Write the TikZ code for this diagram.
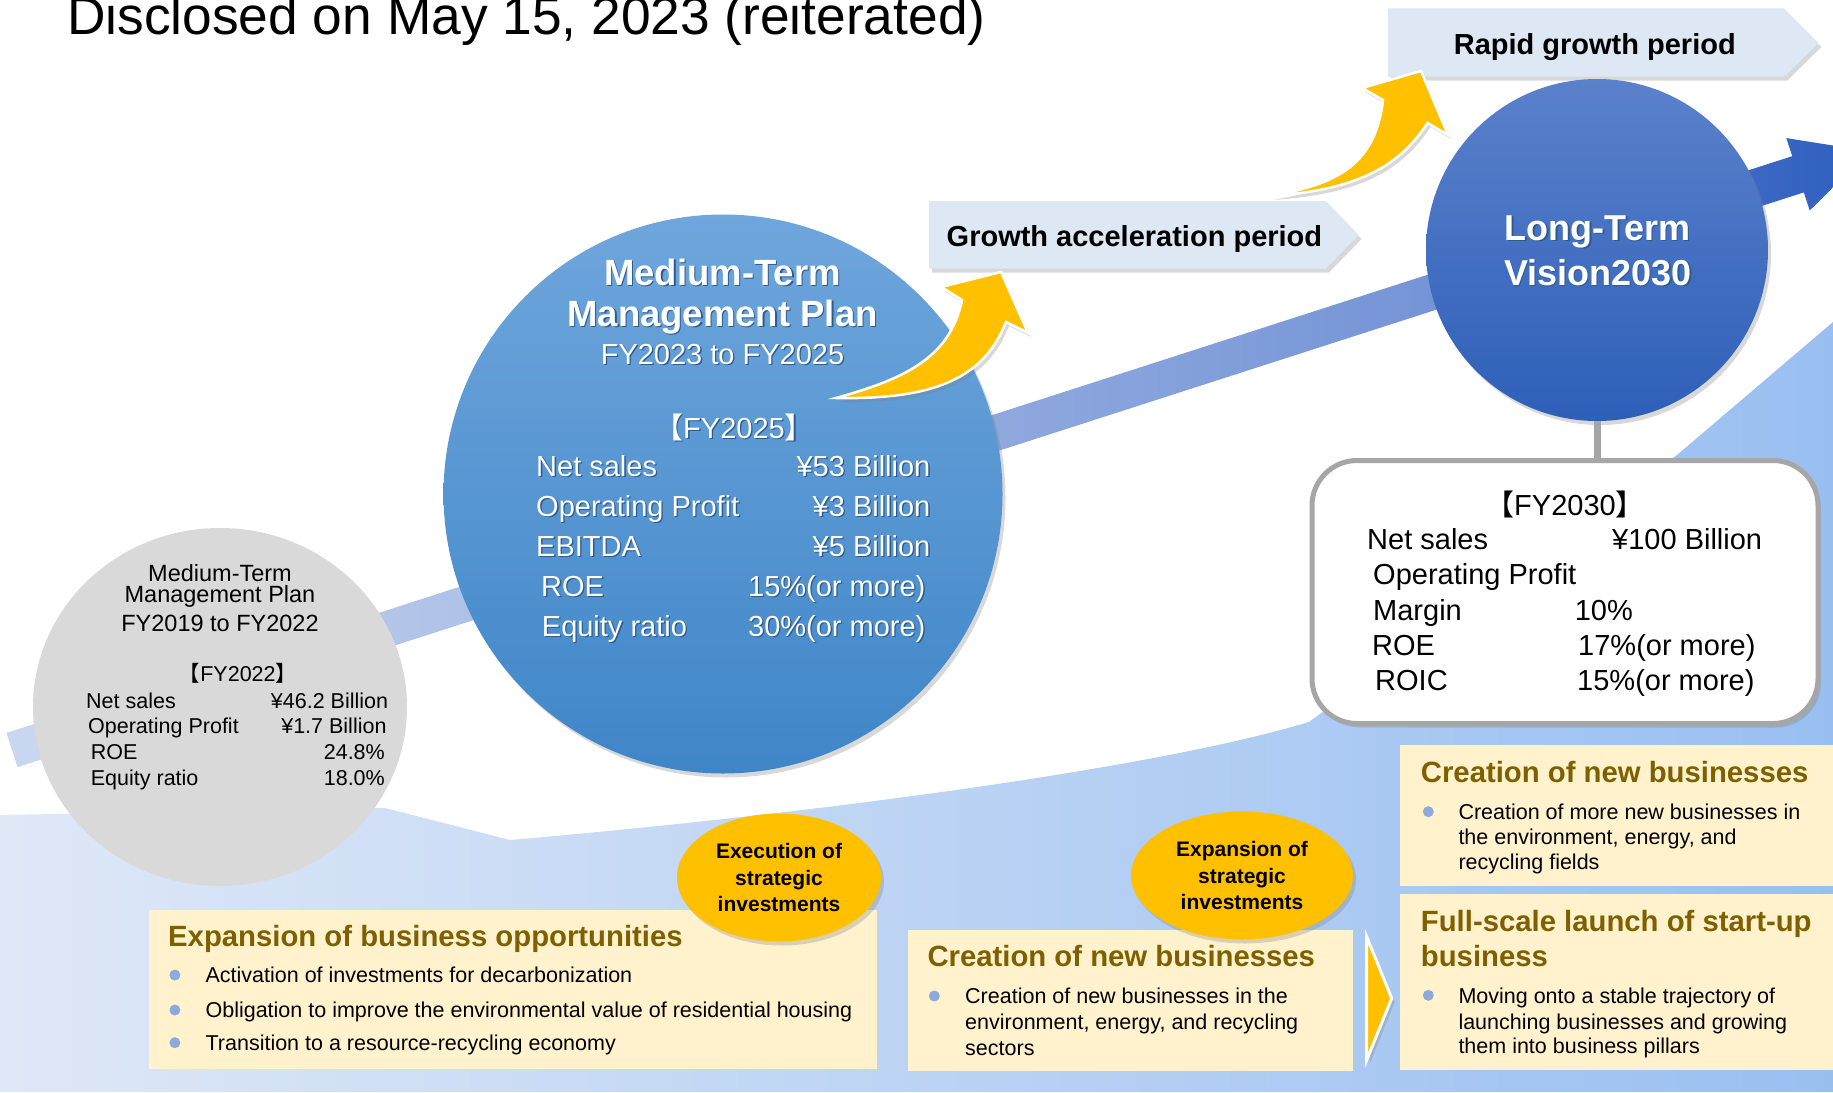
\documentclass[tikz,border=0pt]{standalone}
\usepackage{fontspec}
\setmainfont{Liberation Sans}
\newfontfamily\cjk{Noto Sans CJK JP}
\usetikzlibrary{positioning,shapes.geometric,shadows}

\definecolor{skyA}{HTML}{DFE8F7}
\definecolor{skyB}{HTML}{99BFF1}
\definecolor{trendA}{HTML}{CAD7EF}
\definecolor{trendB}{HTML}{6B8CD4}
\definecolor{trendC}{HTML}{4A75CB}
\definecolor{trendD}{HTML}{2F5EBE}
\definecolor{pastgray}{HTML}{D9D9D9}
\definecolor{midtop}{HTML}{6FA6DC}
\definecolor{midbot}{HTML}{3F86C8}
\definecolor{longtop}{HTML}{5B81CC}
\definecolor{longbot}{HTML}{2E5FB8}
\definecolor{phase}{HTML}{DDE8F4}
\definecolor{gold}{HTML}{FFC000}
\definecolor{cream}{HTML}{FFF2CC}
\definecolor{headgold}{HTML}{7F6000}
\definecolor{bulletblue}{HTML}{8EAADB}
\definecolor{frame}{HTML}{A6A6A6}
\definecolor{textshade}{HTML}{2F5B8C}

\newcommand\fsz[2]{\fontsize{#1}{#2}\selectfont}
\newcommand\fy[1]{{\cjk 【}#1{\cjk 】}}
\newcommand\sh[1]{\rlap{\kern1.3pt\raisebox{-1.3pt}{\color{textshade}#1}}#1}

\tikzset{
  softshadow/.style={drop shadow={opacity=.3,shadow xshift=3pt,shadow yshift=-4pt}},
  phasebox/.style={fill=phase,softshadow},
  growarrow/.style={fill=gold,draw=white,line width=2.5pt,softshadow},
  ctr/.style={anchor=base,inner sep=0pt},
  lbl/.style={anchor=base west,inner sep=0pt},
  val/.style={anchor=base east,inner sep=0pt},
  panel/.style={fill=cream,inner sep=0pt,anchor=north west},
  panelhead/.style={anchor=base west,inner sep=0pt,text=headgold,font=\bfseries\fsz{29.3}{35}},
  itemtext/.style={anchor=base west,inner sep=0pt,font=\fsz{21.5}{26}},
  invest/.style={ellipse,fill=gold,inner sep=0pt,align=center,font=\bfseries\fsz{21}{26.5},softshadow},
}

\begin{document}
\begin{tikzpicture}[x=1pt,y=-1pt]
\useasboundingbox (0,0) rectangle (1833,1092);
\fill[white] (0,0) rectangle (1833,1092);

% ground
\shade[left color=skyA,right color=skyB] (0,815) -- (385,808) -- (510,840)
  .. controls (800,815) and (1150,770) .. (1309,722) -- (1677,455) -- (1833,322)
  -- (1833,1092) -- (0,1092) -- cycle;

% trend band and arrow
\shade[left color=trendA,right color=trendB] (6.5,732.9) -- (1591.5,221.9) -- (1602.5,256.1) -- (17.5,767.1) -- cycle;
\shade[left color=trendC,right color=trendD] (1591.2,220.9) -- (1792.2,156.2) -- (1786.3,138.1)
  -- (1869.4,151.3) -- (1809.7,210.5) -- (1803.8,192.4) -- (1602.8,257.1) -- cycle;

\node[lbl,font=\fsz{53.3}{60}] (title) at (67,34) {Disclosed on May 15, 2023 (reiterated)};

% previous plan
\node[ellipse,fill=pastgray,minimum width=374,minimum height=358] (plan19) at (220,707) {};
\begin{scope}[font=\fsz{23.5}{26}]
\node[ctr] (p19a) at (220,581) {Medium-Term};
\node[ctr] (p19b) at (220,602.7) {Management Plan};
\node[ctr] (p19c) at (220,631.7) {FY2019 to FY2022};
\end{scope}
\begin{scope}[font=\fsz{21.5}{25}]
\node[ctr] (p19fy) at (238,681.7) {\fy{FY2022}};
\foreach \l/\v/\xl/\xr/\yy [count=\i] in {Net sales/{¥46.2 Billion}/86/388.3/708.3,
    Operating Profit/{¥1.7 Billion}/88/386.7/733.3, ROE/24.8\%/90.7/385/759,
    Equity ratio/18.0\%/90.7/385/785} {
  \node[lbl] (p19l\i) at (\xl,\yy) {\l};
  \node[val] (p19v\i) at (\xr,\yy) {\v};
}
\end{scope}

% current plan
\node[circle,top color=midtop,bottom color=midbot,minimum size=559,softshadow] (plan23) at (723,494) {};
\begin{scope}[text=white]
\node[ctr,font=\bfseries\fsz{36.5}{40}] (p23a) at (722.5,285.5) {\sh{Medium-Term}};
\node[ctr,font=\bfseries\fsz{36.5}{40}] (p23b) at (722.5,326) {\sh{Management Plan}};
\node[ctr,font=\fsz{29}{34}] (p23c) at (722.5,364.6) {\sh{FY2023 to FY2025}};
\node[ctr,font=\fsz{29}{34}] (p23fy) at (734,438.6) {\sh{\fy{FY2025}}};
\foreach \l/\v/\xl/\xr/\yy [count=\i] in {Net sales/{¥53 Billion}/536/930.6/476,
    Operating Profit/{¥3 Billion}/536/930.6/516.5, EBITDA/{¥5 Billion}/536/930.6/556.3,
    ROE/15\%(or more)/541/925.6/596, Equity ratio/30\%(or more)/541.7/925.6/636} {
  \node[lbl,font=\fsz{29}{34}] (p23l\i) at (\xl,\yy) {\sh{\l}};
  \node[val,font=\fsz{29}{34}] (p23v\i) at (\xr,\yy) {\sh{\v}};
}
\end{scope}

% periods
\fill[phasebox] (929,201) -- (1326,201) -- (1358.6,235) -- (1326,268.5) -- (929,268.5) -- cycle;
\node[lbl,font=\bfseries\fsz{29}{34}] (growth) at (946.5,246.7) {Growth acceleration period};
\fill[phasebox] (1388,8.3) -- (1784,8.3) -- (1818.4,43) -- (1784,76.7) -- (1388,76.7) -- cycle;
\node[lbl,font=\bfseries\fsz{29}{34}] (rapid) at (1453.6,54.3) {Rapid growth period};

% vision
\node[circle,top color=longtop,bottom color=longbot,minimum size=342,softshadow] (vision) at (1597,250) {};
\node[ctr,text=white,font=\bfseries\fsz{36}{40}] (visa) at (1597.5,240) {\sh{Long-Term}};
\node[ctr,text=white,font=\bfseries\fsz{36}{40}] (visb) at (1598,285) {\sh{Vision2030}};

\draw[growarrow] (836,398) .. controls (900,380) and (950,360) .. (962,300) -- (941,287) -- (1001,272)
  -- (1028,333) -- (1006,322) .. controls (985,375) and (940,400) .. (836,398) -- cycle;
\draw[growarrow] (1270,196) .. controls (1330,185) and (1375,170) .. (1383,100) -- (1362,88) -- (1421,71)
  -- (1448,135) -- (1427.5,123) .. controls (1400,165) and (1360,190) .. (1270,196) -- cycle;

% targets 2030
\node[draw=frame,line width=5pt,fill=white,rounded corners=45pt,minimum width=506,minimum height=263,softshadow] (target) at (1565,592) {};
\draw[frame,line width=7pt] (vision.south) -- (vision.south |- target.north);
\begin{scope}[font=\fsz{29}{34}]
\node[ctr] (tfy) at (1565,515) {\fy{FY2030}};
\foreach \l/\xl/\yy [count=\i] in {Net sales/1367/549.3, Operating Profit/1373/584,
    Margin/1373/620, ROE/1372/655, ROIC/1375/690}
  \node[lbl] (tl\i) at (\xl,\yy) {\l};
\foreach \v/\xv/\yy [count=\i] in {¥100 Billion/1612/549.3, 10\%/1574.6/620,
    17\%(or more)/1578/655, 15\%(or more)/1577/690}
  \node[lbl] (tv\i) at (\xv,\yy) {\v};
\end{scope}

% panels
\node[panel,minimum width=728,minimum height=159] (opps) at (148.7,909.3) {};
\node[panelhead] (oppshead) at (168,946.7) {Expansion of business opportunities};
\foreach \txt/\yy [count=\i] in {Activation of investments for decarbonization/982.7,
    Obligation to improve the environmental value of residential housing/1017.3,
    Transition to a resource-recycling economy/1050}
  \node[itemtext] (opps\i) at (205.4,\yy) {\txt};
\foreach \yy in {975,1010,1042.7}
  \fill[bulletblue] (174.9,\yy) circle[radius=5.5];

\node[panel,minimum width=445.4,minimum height=140.7] (newbiz) at (907.3,930) {};
\node[panelhead] (newbizhead) at (927.3,966.7) {Creation of new businesses};
\foreach \txt/\yy [count=\i] in {Creation of new businesses in the/1003.3,
    {environment, energy, and recycling}/1029.3, sectors/1055}
  \node[itemtext] (newbiz\i) at (965,\yy) {\txt};
\fill[bulletblue] (934.3,996) circle[radius=5.5];

\node[panel,minimum width=433,minimum height=140.7] (morebiz) at (1400,745) {};
\node[panelhead] (morebizhead) at (1420.7,782.7) {Creation of new businesses};
\foreach \txt/\yy [count=\i] in {Creation of more new businesses in/819.3,
    {the environment, energy, and}/844, recycling fields/869.3}
  \node[itemtext] (morebiz\i) at (1458.3,\yy) {\txt};
\fill[bulletblue] (1428.3,811.7) circle[radius=5.5];

\node[panel,minimum width=433,minimum height=175.3] (launch) at (1400,894) {};
\node[panelhead] (launchhead) at (1420.7,931.7) {Full-scale launch of start-up};
\node[panelhead] (launchhead2) at (1420.7,966.7) {business};
\foreach \txt/\yy [count=\i] in {Moving onto a stable trajectory of/1003.3,
    launching businesses and growing/1029.3, them into business pillars/1053.3}
  \node[itemtext] (launch\i) at (1458.3,\yy) {\txt};
\fill[bulletblue] (1428.3,995.3) circle[radius=5.5];

\draw[fill=gold,draw=white,line width=3pt,softshadow] (1366.7,936.7) -- (1391.7,998.3) -- (1366.7,1060) -- cycle;

% investment bubbles
\node[invest,minimum width=204,minimum height=128] (exec) at (779,877.5) {Execution of\\strategic\\investments};
\node[invest,minimum width=222,minimum height=128] (expand) at (1242,875.5) {Expansion of\\strategic\\investments};
\end{tikzpicture}
\end{document}
